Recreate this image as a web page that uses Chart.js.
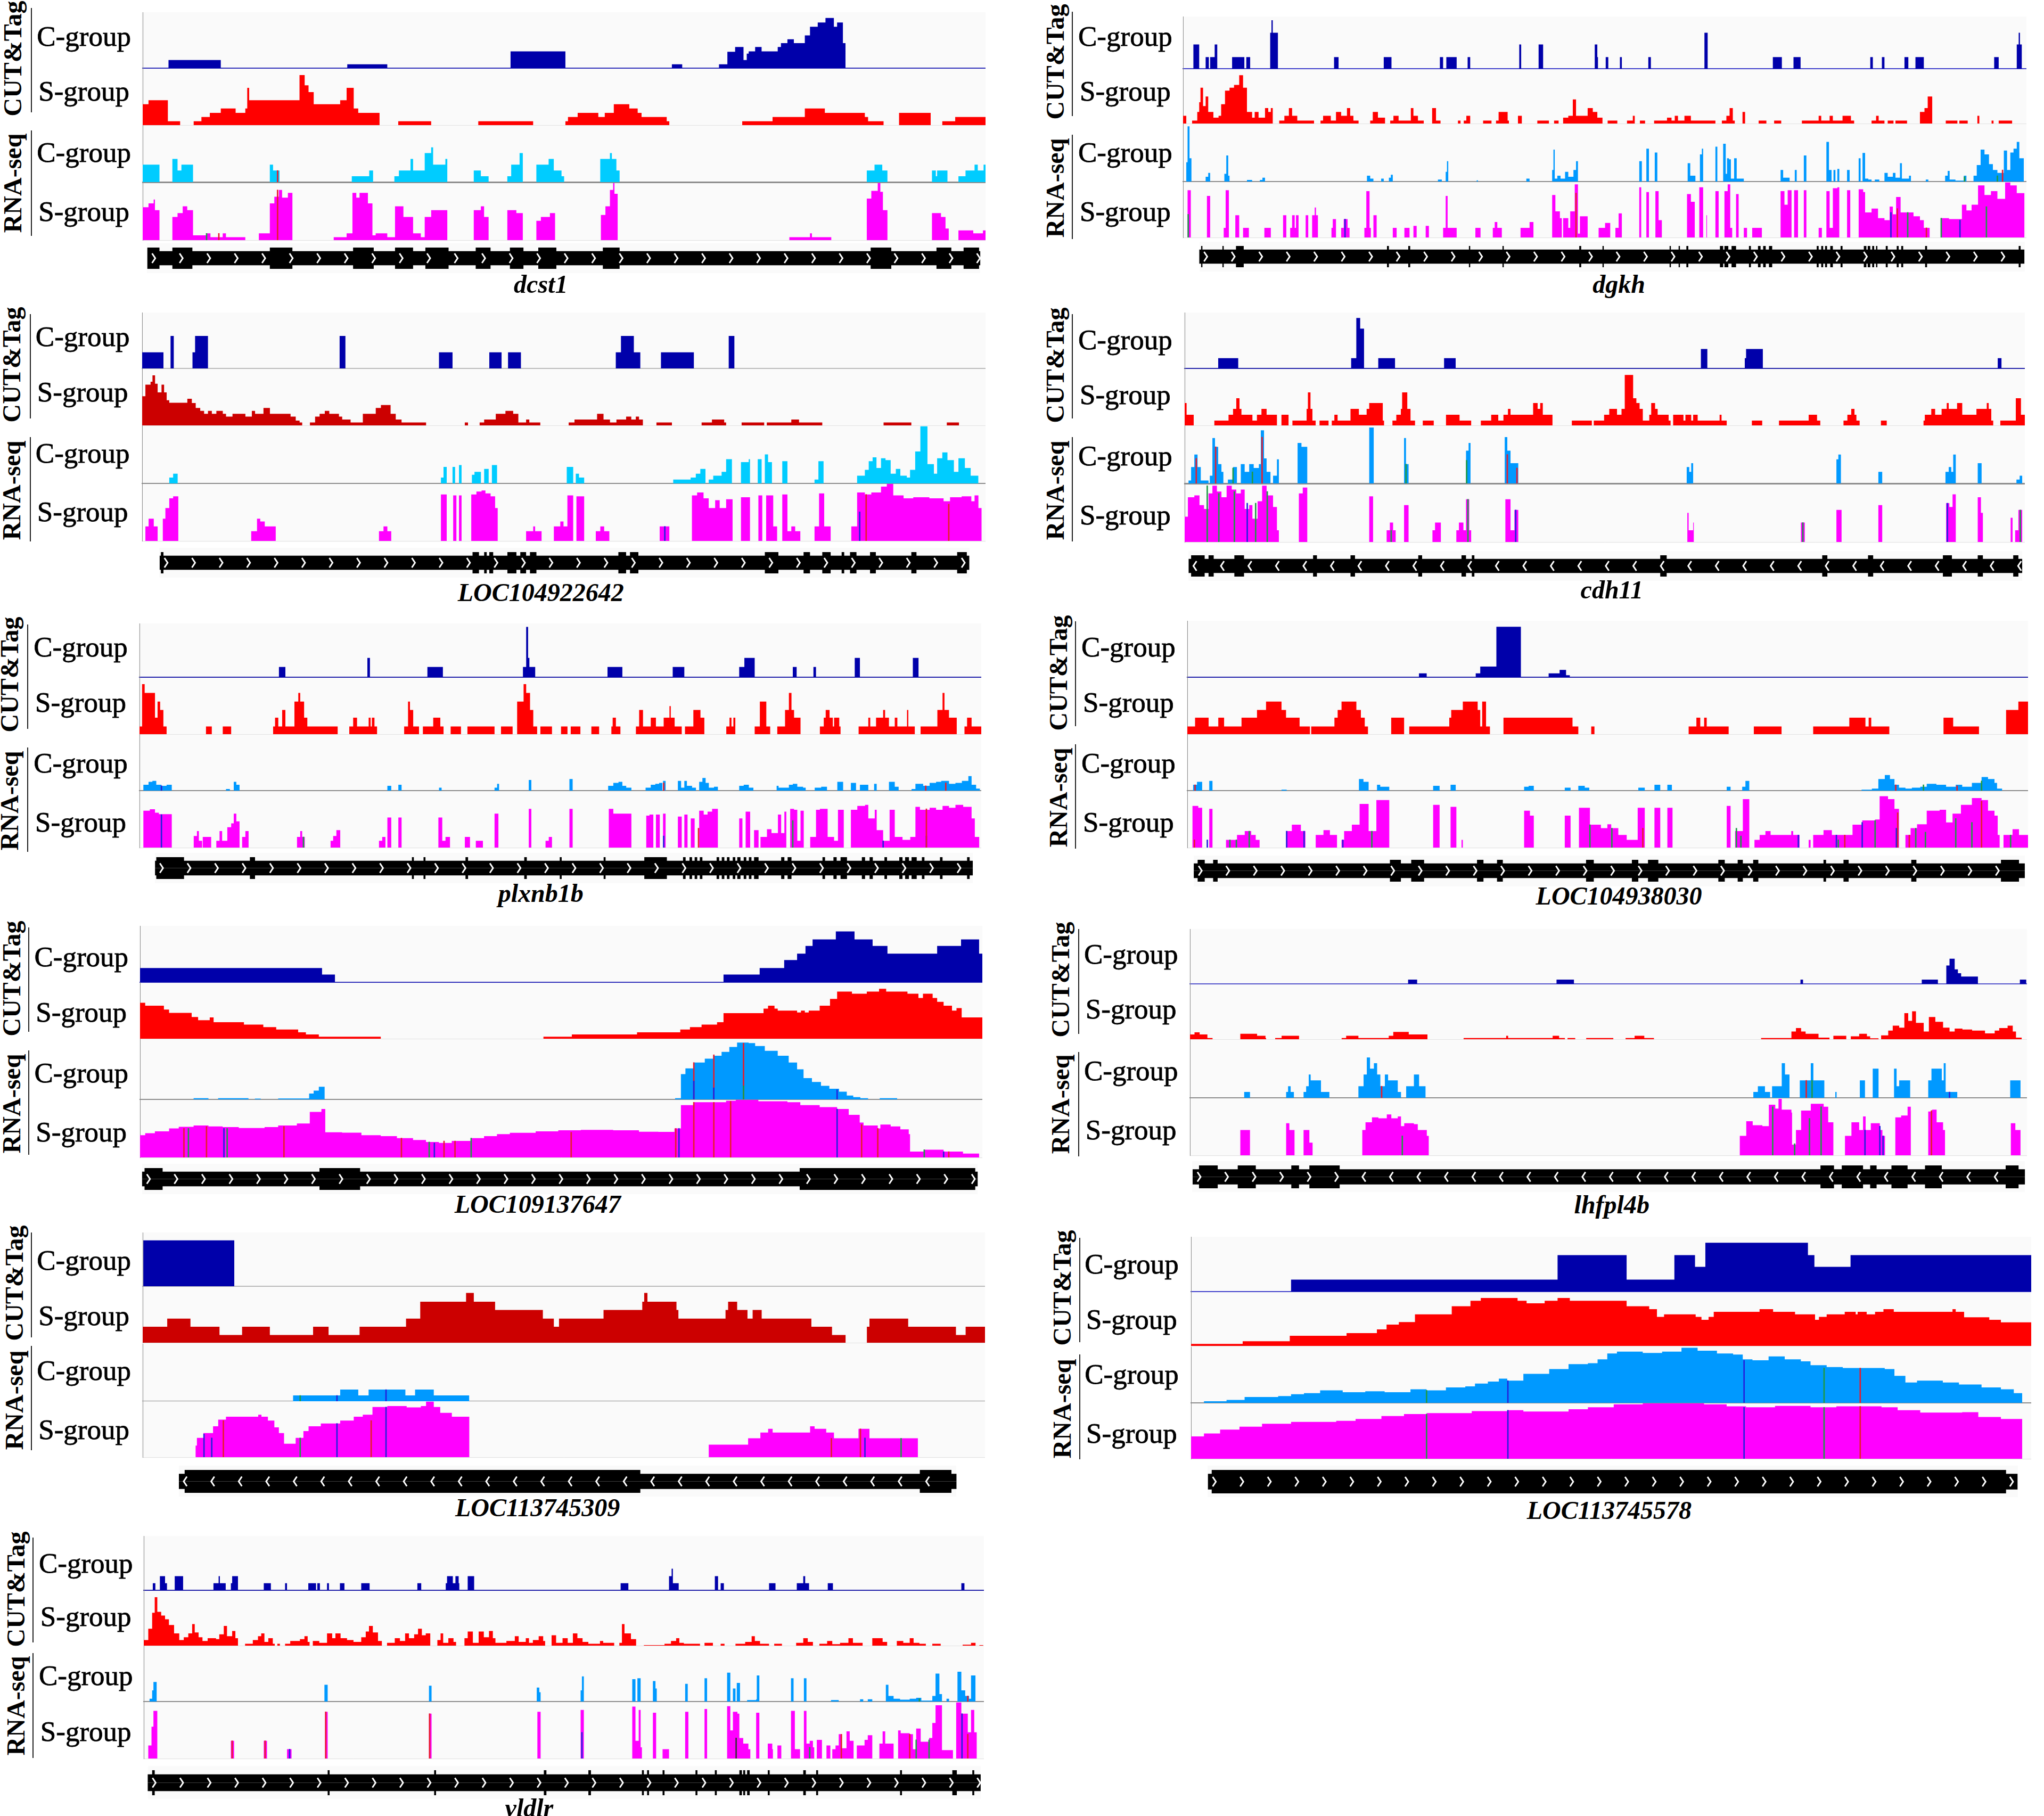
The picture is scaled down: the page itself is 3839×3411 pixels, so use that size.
<!DOCTYPE html>
<html>
<head>
<meta charset="utf-8">
<title>CUT&amp;Tag and RNA-seq tracks</title>
<script src="https://cdn.jsdelivr.net/npm/chart.js@4"></script>
<style>
body { margin: 0; background: #fff; }
#page { position: relative; width: 3839px; height: 3411px; overflow: hidden; font-family: "Liberation Serif", serif; color: #000; }
#page canvas { position: absolute; }
.lbl { position: absolute; white-space: nowrap; line-height: 1; transform: translate(-50%, -50%); }
.group { font-size: 53px; -webkit-text-stroke: 0.8px #000; margin-top: -3px; }
.assay { font-size: 48px; font-weight: bold; transform: translate(-50%, -50%) rotate(-90deg); }
.gene { font-size: 48px; font-weight: bold; font-style: italic; }
.vline { position: absolute; width: 2px; background: #222; }
.halo { position: absolute; background: #fafafa; }
</style>
</head>
<body>
<div id="page"></div>
<script>
// every track is a flat list: position, height, position, height...
// a height holds until the next position (coverage steps)

// dcst1
const dcst1CutC = [40,42,121,0,317,20,379,0,570,87,655,0,820,20,836,0,893,20,906,85,918,110,931,42,936,75,939,87,949,110,959,87,984,110,989,130,999,150,1009,130,1026,170,1034,215,1046,237,1058,260,1071,215,1076,237,1085,130,1089,0];
const dcst1CutS = [0,108,9,128,39,20,58,0,79,20,91,42,104,63,121,86,144,63,159,86,162,192,165,128,243,258,251,205,257,170,265,108,306,128,316,192,327,86,334,63,367,0,396,20,447,0,520,20,605,0,655,20,659,42,674,63,706,42,716,63,730,108,754,86,767,63,773,42,812,20,816,0,929,20,976,42,1026,86,1057,63,1119,42,1124,20,1148,0,1172,63,1221,0,1239,20,1259,42,1306,0];
const dcst1RnaC = [0,90,26,0,46,120,54,60,60,90,78,0,197,90,202,60,212,0,324,30,351,60,357,0,390,30,397,60,415,120,419,60,437,150,447,180,450,90,469,120,472,0,513,60,524,30,536,0,565,30,571,90,584,150,589,0,610,90,629,120,637,60,649,30,653,0,709,120,724,150,727,120,734,60,739,0,1122,60,1134,90,1146,60,1154,0,1223,60,1229,30,1231,60,1247,0,1264,30,1275,60,1289,90,1294,60,1303,90,1306,0];
const dcst1RnaS = [0,170,9,190,17,210,19,155,26,0,46,120,54,140,62,175,69,155,78,25,99,35,105,15,124,35,129,15,159,0,180,35,197,190,204,225,211,260,216,220,225,245,232,0,296,15,316,35,325,245,331,220,336,245,349,190,356,25,361,35,379,15,391,175,404,120,419,35,431,15,437,120,447,155,472,0,513,155,524,175,529,120,536,0,565,155,579,140,589,0,610,100,617,120,631,140,639,0,710,130,717,175,724,260,729,295,731,240,736,0,1002,15,1034,35,1037,15,1067,0,1122,215,1129,255,1139,295,1143,250,1147,155,1154,0,1223,140,1237,120,1244,60,1249,0,1264,50,1287,35,1302,50,1306,0];
const dcst1Body = [7,1298];
const dcst1Exons = [7,26,46,77,197,232,326,358,391,419,438,474,516,539,569,590,613,641,713,739,1128,1160,1230,1253,1272,1296];
const dcst1SnpC = [[209,60,'r']];
const dcst1SnpS = [[209,260,'r'],[99,35,'g'],[118,35,'r']];

// dgkh
const dgkhCutC = [249,125,258,0,268,60,273,0,275,60,282,125,286,0,309,60,328,0,331,60,337,0,368,185,370,250,372,185,380,0,467,60,474,0,544,60,556,0,631,60,636,0,641,60,657,0,674,60,678,0,754,125,757,0,784,125,791,0,871,125,875,60,876,0,888,60,892,0,910,60,913,0,954,60,958,0,1041,185,1046,0,1147,60,1161,0,1179,60,1190,0,1298,60,1302,0,1316,60,1320,0,1351,60,1357,0,1368,60,1381,0,1490,60,1497,0,1525,125,1528,185,1530,125,1533,0];
const dgkhCutS = [233,40,238,0,247,15,255,60,258,110,260,185,264,90,268,140,272,60,280,30,288,40,292,100,298,170,305,185,312,200,320,250,326,185,332,60,340,30,344,60,350,30,360,80,365,60,369,80,372,0,382,15,390,40,397,80,402,40,410,15,436,0,446,15,450,40,462,15,470,60,478,40,487,80,492,40,497,15,505,0,523,15,527,60,535,30,546,0,554,15,559,40,567,15,586,80,590,40,597,15,606,0,619,80,625,15,632,0,659,15,663,0,668,15,672,40,678,0,698,15,711,0,718,15,722,60,736,15,738,0,752,40,758,0,782,15,800,0,808,15,815,0,822,30,830,40,837,125,842,40,860,80,868,60,875,30,883,0,891,15,906,0,921,15,930,40,933,0,941,15,949,0,963,15,983,30,990,15,995,40,1000,15,1010,40,1020,15,1058,0,1068,15,1075,40,1080,80,1085,15,1088,0,1100,60,1104,0,1125,15,1137,0,1149,15,1160,0,1192,15,1218,40,1222,15,1235,40,1240,15,1255,40,1268,15,1273,0,1300,15,1307,40,1311,15,1320,0,1325,15,1334,0,1337,15,1355,0,1375,60,1382,80,1387,140,1394,0,1415,15,1433,0,1436,15,1449,0,1464,40,1467,0,1486,15,1489,0,1497,15,1518,0];
const dgkhRnaC = [238,100,240,285,243,120,246,0,268,25,272,45,275,0,297,40,300,135,303,30,305,0,332,8,340,0,352,8,356,20,360,0,518,30,523,15,528,0,540,15,544,0,552,20,555,35,558,0,628,10,634,0,640,50,642,105,644,0,688,6,690,0,765,15,770,0,805,60,807,165,809,15,813,30,818,15,825,50,830,25,838,60,842,105,845,0,940,105,944,0,951,170,955,0,964,150,968,0,1015,95,1019,30,1027,0,1034,140,1037,170,1039,0,1058,180,1061,0,1070,195,1074,40,1076,120,1079,115,1082,15,1087,120,1091,15,1097,15,1102,0,1159,60,1163,20,1170,20,1173,0,1181,60,1184,0,1195,135,1199,0,1230,205,1234,60,1238,0,1241,60,1244,0,1247,65,1250,0,1262,60,1266,0,1280,120,1283,0,1286,148,1290,15,1295,10,1300,0,1305,10,1312,0,1320,45,1325,25,1333,45,1337,20,1344,95,1347,15,1358,30,1361,0,1384,10,1388,0,1414,30,1418,55,1421,10,1430,5,1443,30,1447,0,1458,30,1463,85,1469,165,1475,140,1482,90,1488,60,1495,45,1505,160,1510,60,1515,150,1520,170,1525,205,1529,120,1536,0];
const dgkhRnaS = [240,245,245,0,270,215,275,0,296,50,299,245,304,0,314,115,320,0,326,50,335,0,359,50,369,0,388,115,393,0,399,50,402,115,406,50,408,115,412,0,423,115,427,0,433,115,437,155,439,115,442,0,463,50,465,95,470,0,478,50,482,95,488,50,491,0,514,50,517,240,522,50,524,0,528,115,533,0,558,50,564,0,576,50,584,0,590,60,595,0,609,60,614,0,636,50,640,215,643,50,657,0,686,50,694,0,713,50,716,80,720,50,727,0,756,50,770,80,776,0,805,220,810,135,817,100,820,0,822,100,830,50,833,135,840,275,845,20,848,110,860,0,877,50,887,75,895,0,903,50,908,125,913,0,940,260,943,0,951,235,955,0,965,240,970,90,975,0,1014,225,1020,185,1026,0,1033,260,1039,0,1044,115,1045,0,1058,240,1063,0,1072,240,1077,275,1081,50,1084,0,1090,225,1094,0,1102,50,1107,0,1115,50,1130,0,1159,240,1165,170,1170,245,1176,0,1180,245,1186,0,1195,245,1199,0,1218,50,1223,0,1230,240,1235,50,1240,255,1247,260,1250,0,1262,245,1267,0,1280,250,1287,235,1290,130,1300,150,1310,100,1320,90,1328,160,1333,120,1338,210,1345,130,1355,130,1365,110,1375,90,1381,50,1390,0,1407,100,1420,95,1440,170,1447,140,1455,170,1465,270,1475,220,1485,240,1495,200,1507,285,1515,270,1525,230,1537,0];
const dgkhBody = [258,1537];
const dgkhExons = [261,263,294,296,315,327,549,552,582,585,676,678,728,730,847,850,883,885,987,989,1001,1003,1013,1016,1065,1070,1072,1078,1083,1090,1110,1113,1124,1128,1132,1136,1141,1146,1215,1218,1222,1225,1228,1231,1236,1240,1252,1255,1288,1292,1294,1298,1301,1304,1307,1309,1322,1325,1339,1342,1346,1349,1383,1386,1528,1531];
const dgkhSnpC = [[1503,60,'r'],[1495,30,'g'],[1444,25,'g']];
const dgkhSnpS = [[842,230,'r'],[1330,130,'b'],[1340,150,'r'],[1356,130,'g'],[1408,100,'g'],[1437,90,'b'],[1478,160,'g'],[1385,50,'r'],[484,95,'b'],[241,120,'g']];

// LOC104922642
const loc642CutC = [220,83,253,0,264,167,269,0,298,83,302,167,322,0,526,167,535,0,680,83,701,0,758,83,777,0,787,83,807,0,954,83,962,167,982,83,992,0,1024,83,1075,0,1129,167,1138,0];
const loc642CutS = [220,150,225,210,233,225,236,258,240,215,244,170,250,210,254,170,258,130,262,117,290,137,297,115,303,90,310,75,316,60,322,75,328,60,335,75,345,60,350,45,360,60,380,45,390,75,395,60,408,90,418,60,450,45,458,25,464,15,468,0,480,15,488,45,495,60,503,75,510,60,525,45,530,30,543,15,562,60,582,90,590,105,605,60,613,30,622,15,660,0,720,15,725,0,743,15,750,30,768,60,783,75,795,60,803,15,815,30,820,15,837,0,881,15,890,30,925,60,935,30,945,15,955,30,970,45,978,30,985,45,990,30,996,0,1017,15,1041,0,1087,15,1103,30,1122,15,1125,0,1149,15,1184,0,1188,15,1226,30,1238,15,1274,0,1369,15,1412,0,1467,15,1486,0];
const loc642RnaC = [262,30,268,50,275,0,683,30,687,85,692,0,701,85,705,0,711,95,715,0,731,45,735,60,745,0,750,75,757,0,762,95,770,0,878,85,888,0,892,50,897,30,905,0,1043,20,1070,30,1078,50,1085,75,1093,0,1098,20,1105,40,1118,60,1125,125,1134,0,1148,110,1160,125,1162,0,1174,125,1180,0,1185,150,1190,110,1196,0,1212,115,1220,0,1262,20,1268,115,1276,0,1328,40,1340,70,1346,115,1352,135,1358,80,1365,130,1372,120,1380,50,1388,75,1395,40,1405,30,1410,70,1418,165,1426,295,1437,100,1447,50,1452,130,1460,160,1468,120,1478,60,1485,130,1495,80,1504,40,1516,0];
const loc642RnaS = [225,75,230,115,238,75,244,0,252,115,256,170,262,220,268,230,276,0,389,50,398,115,403,100,410,75,427,0,587,50,594,75,600,50,606,0,683,240,692,0,702,235,707,0,711,235,715,0,730,240,738,255,746,260,752,245,760,230,767,170,771,0,815,50,826,75,829,50,839,0,858,75,868,100,873,75,879,235,888,0,893,230,905,0,923,50,930,75,936,50,944,0,1022,75,1037,0,1072,235,1080,250,1090,220,1098,170,1108,210,1115,170,1125,215,1135,0,1148,225,1162,0,1175,235,1181,0,1187,235,1198,75,1204,0,1212,240,1220,50,1226,75,1232,50,1240,0,1262,75,1269,245,1277,75,1287,0,1319,75,1328,250,1340,240,1350,250,1365,280,1374,295,1384,235,1400,220,1415,225,1440,220,1462,205,1472,225,1490,230,1505,205,1510,235,1516,170,1521,0];
const loc642Body = [247,1502];
const loc642Exons = [249,253,732,742,750,754,758,764,786,800,806,815,821,831,958,970,976,989,1185,1206,1245,1255,1274,1287,1304,1308,1317,1327,1348,1357,1412,1420,1483,1498];
const loc642SnpC = [];
const loc642SnpS = [[1030,75,'b'],[1332,150,'b'],[1342,240,'r'],[1470,190,'r']];

// cdh11
const cdh11CutC = [287,53,318,0,493,53,501,260,507,205,513,0,535,53,561,0,637,53,655,0,1035,100,1045,0,1103,53,1105,100,1131,0,1495,53,1501,0];
const cdh11CutS = [235,115,238,55,249,0,281,25,303,55,310,85,315,140,320,85,323,55,340,25,347,55,354,85,362,55,378,0,385,55,396,0,402,25,424,85,426,170,430,85,433,25,438,0,444,25,458,0,463,25,467,55,472,25,492,85,505,55,517,85,521,115,542,25,544,0,557,25,563,55,570,85,572,170,580,85,585,25,592,0,604,25,621,0,640,55,661,25,679,0,694,25,710,55,721,25,729,55,736,85,740,55,775,115,782,85,786,115,790,55,805,0,835,25,866,0,869,25,885,55,893,85,905,55,912,85,917,260,930,140,935,115,940,85,945,25,955,55,958,115,964,85,968,55,985,25,988,0,992,55,1008,25,1011,55,1020,25,1023,55,1030,25,1064,55,1067,25,1075,0,1114,25,1130,0,1156,25,1202,55,1215,25,1220,0,1256,25,1262,55,1268,85,1273,55,1276,25,1281,0,1314,25,1323,0,1380,25,1382,55,1392,85,1398,55,1408,85,1416,115,1419,85,1432,115,1440,55,1462,85,1478,115,1481,85,1485,25,1488,0,1499,25,1523,140,1531,55,1537,25];
const cdh11RnaC = [241,15,245,85,250,150,255,85,260,15,272,0,274,40,278,235,282,190,287,100,292,60,295,0,302,20,310,85,316,0,322,100,328,60,335,100,342,80,350,100,353,275,358,130,362,60,368,0,372,40,378,125,381,0,410,210,416,190,425,0,521,290,528,0,575,235,578,100,582,0,671,170,675,210,678,0,731,240,735,170,740,105,752,0,1013,85,1017,60,1020,105,1023,0,1245,125,1248,150,1252,0,1310,60,1316,0,1414,60,1419,85,1423,60,1426,150,1430,0,1464,105,1470,0,1524,20,1529,40,1533,0];
const cdh11RnaS = [235,130,240,230,250,240,258,190,265,170,272,250,278,290,285,260,292,230,300,290,308,270,315,250,322,270,328,170,335,190,340,120,348,210,355,290,362,240,372,180,378,60,381,0,412,250,418,280,425,0,521,235,527,0,548,60,553,100,558,60,562,0,575,190,582,0,619,60,623,100,632,0,656,60,660,100,667,60,671,220,676,60,679,0,732,220,740,60,746,165,752,0,1014,150,1016,60,1023,100,1024,0,1190,100,1196,0,1245,165,1253,0,1310,190,1316,0,1415,200,1420,180,1425,245,1430,0,1464,230,1469,150,1472,0,1515,125,1518,0,1522,60,1527,165,1533,0];
const cdh11Body = [241,1533];
const cdh11Exons = [245,266,272,280,312,327,434,440,492,499,597,603,664,671,680,684,972,982,1223,1231,1294,1302,1410,1424,1464,1472,1519,1527];
const cdh11SnpC = [[253,130,'r'],[283,190,'r'],[310,80,'g'],[340,60,'g'],[355,240,'r'],[672,120,'g'],[735,150,'r'],[750,80,'r'],[578,100,'g']];
const cdh11SnpS = [[270,290,'g'],[288,250,'g'],[312,260,'g'],[332,200,'b'],[345,200,'g'],[363,260,'g'],[748,165,'b'],[674,220,'g'],[555,60,'g'],[1193,100,'g'],[1417,200,'b'],[1530,165,'g']];

// plxnb1b
const plxnCutC = [432,53,442,0,569,100,573,0,662,53,686,0,810,53,815,260,818,100,820,53,829,0,941,53,964,0,1042,53,1060,0,1145,53,1153,100,1169,0,1228,53,1234,0,1260,53,1264,0,1324,100,1332,0,1414,100,1423,0];
const plxnCutS = [216,40,220,258,224,213,240,85,244,168,248,125,253,40,258,0,319,40,328,0,345,40,358,0,423,40,426,85,431,40,437,125,442,40,456,168,462,213,465,168,471,85,476,40,523,0,541,40,547,85,553,40,571,85,574,40,576,85,580,40,584,0,626,40,632,168,635,125,640,40,649,0,655,40,671,85,682,40,687,0,698,40,714,0,724,40,766,0,776,40,794,0,801,168,811,258,815,213,821,125,826,40,832,0,837,40,855,0,869,40,879,0,884,40,899,0,916,40,928,0,947,40,949,85,954,40,961,0,985,40,990,125,996,40,1008,85,1016,40,1028,85,1037,145,1039,85,1045,40,1056,0,1061,40,1074,125,1085,85,1091,0,1125,40,1130,85,1133,40,1136,85,1139,0,1169,40,1177,168,1187,40,1193,0,1204,40,1216,125,1222,213,1226,125,1230,85,1240,0,1270,40,1276,85,1279,125,1285,85,1290,40,1292,85,1300,40,1302,0,1330,40,1345,85,1348,40,1357,85,1368,125,1371,85,1377,40,1386,85,1390,40,1405,125,1407,40,1417,0,1426,40,1452,125,1460,213,1463,125,1470,85,1482,0,1494,40,1498,85,1505,40,1520,0];
const plxnRnaC = [222,30,230,45,236,50,242,30,250,25,258,30,266,0,350,8,356,0,362,45,366,30,371,0,600,25,606,0,617,30,622,0,680,15,684,0,766,15,770,35,773,0,819,55,823,0,882,60,887,0,942,25,950,40,958,45,964,25,970,15,978,0,1000,15,1008,30,1015,35,1021,40,1026,0,1027,50,1031,0,1050,50,1055,15,1060,50,1064,25,1072,15,1078,0,1083,45,1088,65,1093,40,1098,15,1106,20,1112,0,1145,25,1152,30,1160,15,1167,0,1203,25,1206,15,1222,30,1228,35,1235,20,1244,15,1248,0,1262,15,1272,20,1281,0,1297,45,1306,0,1318,40,1326,0,1332,30,1345,0,1354,35,1358,0,1377,45,1386,20,1392,0,1412,8,1418,35,1430,25,1440,40,1450,45,1458,50,1470,35,1480,40,1490,50,1500,75,1505,30,1512,10,1518,0];
const plxnRnaS = [222,190,232,198,240,180,246,172,266,0,300,60,305,85,308,35,313,0,314,55,327,0,335,35,340,85,344,35,352,105,358,125,362,175,366,135,371,0,375,55,380,85,385,0,460,55,465,85,468,55,472,0,512,35,516,60,521,90,527,0,587,35,592,55,597,0,600,155,606,0,617,155,622,0,679,155,685,35,690,55,697,0,720,55,728,0,737,35,748,0,766,175,772,0,819,200,823,0,845,35,850,55,855,0,882,200,887,0,943,200,950,175,978,0,1001,165,1006,170,1012,0,1016,170,1022,0,1027,175,1031,0,1050,160,1056,0,1060,170,1065,0,1070,150,1076,0,1083,190,1090,170,1096,185,1103,200,1112,0,1145,150,1150,0,1155,185,1162,0,1168,90,1175,0,1178,55,1188,95,1195,75,1205,170,1210,75,1215,185,1218,0,1224,200,1230,195,1235,35,1240,190,1245,0,1255,55,1264,195,1270,200,1282,55,1292,35,1298,195,1307,0,1318,195,1328,215,1340,220,1345,150,1355,195,1358,90,1368,35,1378,195,1386,55,1398,40,1410,55,1418,210,1425,195,1440,205,1450,195,1460,215,1470,205,1480,220,1492,210,1505,150,1510,55,1517,0];
const plxnBody = [240,1507];
const plxnExons = [242,285,387,395,638,641,656,659,721,725,812,816,867,870,935,938,998,1033,1058,1062,1068,1072,1076,1080,1084,1088,1110,1114,1118,1122,1126,1130,1135,1139,1142,1147,1152,1156,1160,1164,1168,1175,1210,1215,1220,1226,1274,1278,1291,1296,1302,1312,1335,1340,1347,1352,1370,1374,1393,1398,1402,1408,1412,1420,1428,1432,1456,1460,1498,1502];
const plxnSnpC = [[250,25,'b'],[1028,40,'r'],[1434,25,'r'],[1465,40,'r']];
const plxnSnpS = [[250,170,'b'],[470,55,'g'],[1028,60,'b'],[1082,100,'r'],[1228,140,'g'],[1435,60,'b'],[1435,200,'r'],[1368,35,'b']];

// LOC104938030
const loc030CutC = [598,20,610,0,686,20,693,55,715,55,718,260,756,0,799,20,816,38,826,10,832,0];
const loc030CutS = [239,40,251,85,272,40,287,85,296,40,323,85,347,125,361,168,385,125,392,85,413,40,429,0,431,40,467,85,472,125,478,168,501,125,508,85,514,40,519,0,555,85,575,0,583,40,645,85,648,125,666,168,689,125,693,40,696,168,702,40,708,0,729,85,836,40,845,0,865,40,870,0,1016,40,1028,85,1034,40,1040,85,1044,40,1078,0,1117,40,1160,0,1209,40,1265,85,1290,40,1295,85,1299,40,1327,0,1411,85,1426,40,1466,0,1508,125,1527,168,1542,0];
const loc030RnaC = [248,30,254,45,262,0,273,50,278,0,385,5,393,0,505,60,512,45,520,0,533,30,538,20,552,0,620,25,630,0,647,30,655,0,761,20,768,25,776,0,824,15,833,0,845,25,855,15,862,0,938,15,948,0,963,30,972,0,983,30,990,0,1075,20,1081,0,1099,20,1104,50,1110,0,1284,5,1300,10,1310,60,1320,80,1328,60,1335,30,1342,15,1352,10,1362,15,1375,20,1385,35,1400,30,1415,20,1430,30,1440,20,1455,40,1470,70,1480,60,1490,40,1494,10,1502,0];
const loc030RnaS = [247,215,256,205,262,0,273,200,278,0,299,40,316,65,328,85,338,65,345,40,351,0,392,85,401,118,415,85,422,0,438,65,450,90,460,65,471,0,478,40,482,85,494,118,506,225,520,85,532,245,552,0,620,220,630,0,647,210,656,0,664,40,666,0,761,190,770,165,776,0,824,165,833,0,846,205,863,118,880,100,890,120,896,100,907,65,920,40,937,205,948,0,963,205,972,0,983,205,991,0,1075,215,1081,0,1088,85,1100,250,1110,0,1118,40,1126,65,1135,85,1143,65,1175,85,1178,65,1188,0,1202,40,1205,0,1209,65,1225,90,1238,65,1270,118,1285,140,1305,145,1312,265,1325,250,1335,200,1342,0,1352,65,1360,100,1370,120,1385,190,1405,195,1415,130,1425,175,1438,220,1455,255,1470,245,1480,190,1490,165,1495,65,1498,0,1504,65,1518,95,1528,65,1542,0];
const loc030Body = [249,1537];
const loc030Exons = [255,266,279,286,553,570,586,606,688,698,719,728,857,869,928,938,953,969,1062,1072,1092,1100,1116,1124,1225,1229,1256,1264,1361,1369,1500,1528];
const loc030SnpC = [[251,30,'r'],[1337,30,'r'],[1380,30,'g'],[1470,50,'g'],[1432,25,'r']];
const loc030SnpS = [[250,40,'r'],[270,40,'b'],[305,40,'g'],[315,40,'g'],[335,85,'g'],[393,85,'b'],[420,85,'b'],[480,40,'b'],[525,85,'g'],[863,118,'g'],[897,100,'g'],[945,100,'r'],[1090,100,'g'],[1097,60,'g'],[1186,65,'b'],[1245,65,'b'],[1248,40,'g'],[1258,65,'r'],[1285,130,'b'],[1305,140,'g'],[1338,100,'b'],[1340,180,'r'],[1358,65,'r'],[1368,100,'g'],[1383,80,'g'],[1430,150,'g'],[1455,130,'g'],[1470,240,'r'],[1515,65,'g']];

// LOC109137647
const loc647CutC = [217,74,499,40,519,0,1121,40,1177,74,1215,115,1235,148,1248,188,1259,222,1295,263,1324,222,1352,188,1375,148,1452,188,1489,222,1517,148,1522,0];
const loc647CutS = [217,185,225,170,254,150,262,133,297,112,307,95,325,110,331,85,378,73,408,60,428,47,462,33,474,22,494,10,590,0,842,10,886,22,987,33,1054,47,1069,60,1087,73,1111,85,1121,132,1183,155,1190,170,1200,155,1205,145,1235,135,1241,145,1247,135,1253,145,1270,170,1286,205,1297,243,1320,232,1343,243,1362,257,1373,243,1406,232,1423,210,1430,232,1445,210,1452,190,1462,170,1475,145,1482,158,1490,110,1522,0];
const loc647RnaC = [300,6,323,0,338,6,385,0,395,4,404,0,431,5,479,30,486,45,494,65,503,0,1046,6,1055,130,1062,160,1075,190,1092,210,1105,225,1118,245,1130,270,1142,293,1160,290,1170,275,1185,250,1205,225,1222,190,1235,155,1245,110,1258,90,1272,70,1285,55,1300,40,1312,20,1322,12,1333,6,1345,0,1363,6,1390,0];
const loc647RnaS = [217,115,225,125,240,135,262,150,277,158,300,165,323,160,345,157,370,152,410,157,431,165,460,175,480,235,498,250,504,130,530,128,560,115,590,110,615,100,640,90,660,80,680,75,700,85,730,100,750,110,770,120,790,127,830,135,865,140,900,142,950,140,990,133,1020,132,1045,150,1055,270,1075,285,1125,293,1140,298,1175,290,1220,285,1240,270,1270,260,1297,250,1315,220,1332,180,1338,165,1360,150,1364,170,1380,160,1395,145,1408,120,1410,30,1432,40,1462,30,1492,20,1517,0];
const loc647Body = [220,1515];
const loc647Exons = [224,252,495,558,1239,1511];
const loc647SnpC = [[1075,190,'r'],[1106,230,'r'],[1152,290,'r'],[1075,95,'b'],[1106,60,'b'],[1152,70,'g'],[1297,50,'b']];
const loc647SnpS = [[285,150,'r'],[292,150,'g'],[320,160,'r'],[347,150,'b'],[352,150,'g'],[440,160,'r'],[622,100,'r'],[665,80,'g'],[673,75,'b'],[688,85,'r'],[705,85,'r'],[730,100,'g'],[885,130,'r'],[1047,150,'r'],[1052,150,'b'],[1075,285,'r'],[1106,285,'r'],[1132,290,'r'],[1297,250,'b'],[1335,170,'r'],[1360,150,'r'],[1432,40,'g'],[1462,30,'b'],[1470,30,'r']];

// lhfpl4b
const lhfCutC = [581,22,595,0,811,22,838,0,1189,22,1193,0,1377,22,1402,0,1415,95,1420,130,1428,75,1433,55,1438,38,1464,0,1529,22,1539,0];
const lhfCutS = [243,25,250,36,258,25,270,6,278,0,321,28,347,18,360,6,361,0,375,6,385,18,412,0,478,6,485,18,504,6,551,18,558,38,582,25,611,0,667,6,733,18,736,6,805,18,815,6,824,0,828,6,840,0,857,6,899,0,918,6,932,18,947,6,962,0,1128,6,1172,6,1175,40,1182,58,1190,40,1197,28,1217,8,1234,0,1240,18,1260,0,1267,15,1280,28,1292,15,1297,5,1310,0,1314,20,1325,45,1332,70,1342,60,1350,135,1356,95,1362,145,1368,85,1380,40,1388,115,1398,90,1410,60,1420,40,1428,55,1440,50,1455,45,1475,30,1490,45,1497,58,1510,70,1518,40,1523,8,1532,0];
const lhfRnaC = [327,30,336,0,392,30,395,60,399,30,404,0,419,30,423,60,427,120,430,90,446,30,459,0,504,60,512,120,517,208,522,150,528,178,533,120,538,60,545,120,550,90,565,30,570,0,578,60,590,120,598,60,608,0,1116,30,1123,60,1134,30,1142,0,1145,60,1160,178,1165,120,1172,0,1188,90,1205,178,1209,90,1226,0,1243,30,1245,0,1281,90,1289,0,1301,150,1310,0,1334,150,1338,60,1342,90,1359,0,1387,90,1392,150,1408,90,1411,178,1414,30,1432,0,1514,90,1530,0];
const lhfRnaS = [321,130,336,0,392,165,397,130,405,0,419,130,428,65,433,0,510,130,515,170,525,195,535,190,548,210,555,190,565,200,570,150,575,165,590,160,596,130,610,100,613,0,1095,100,1105,175,1115,155,1130,150,1140,260,1150,240,1155,290,1160,235,1175,220,1176,55,1182,130,1190,230,1205,265,1225,250,1232,170,1240,0,1258,100,1268,170,1280,130,1286,200,1290,130,1298,165,1312,130,1316,100,1320,0,1336,195,1345,205,1355,250,1360,0,1387,225,1393,235,1400,170,1410,130,1413,0,1515,165,1522,130,1530,0];
const lhfBody = [247,1537];
const lhfExons = [257,286,317,345,400,412,428,475,1220,1241,1253,1286,1297,1307,1330,1355,1382,1408,1507,1527];
const lhfSnpC = [[540,60,'r'],[1198,90,'r'],[1207,90,'g'],[1420,30,'b']];
const lhfSnpS = [[572,100,'g'],[1146,250,'g'],[1180,60,'g'],[1203,190,'g'],[1221,250,'g'],[1289,130,'b'],[1312,150,'b'],[1317,100,'b'],[1392,230,'r']];

// LOC113745309
const loc309CutC = [222,238,363,0];
const loc309CutS = [221,83,259,125,295,83,340,40,375,83,418,40,485,83,509,40,557,83,629,125,651,213,722,258,734,213,767,170,841,125,858,83,866,125,935,170,995,213,998,258,1003,213,1048,170,1051,125,1124,170,1128,213,1142,170,1158,125,1166,170,1180,125,1257,83,1289,40,1310,0,1343,83,1347,125,1407,83,1481,40,1496,83,1526,0];
const loc309RnaC = [454,30,527,60,555,30,571,60,628,30,643,60,672,30,727,0];
const loc309RnaS = [303,60,305,100,315,125,330,160,338,195,350,210,400,220,405,210,415,190,425,155,432,125,440,70,458,100,470,135,478,160,497,175,527,190,548,210,562,220,577,260,600,265,630,258,652,265,660,288,672,260,682,230,700,210,727,0,1098,65,1159,98,1178,128,1190,147,1197,128,1255,160,1262,147,1280,128,1292,98,1330,147,1347,98,1422,0];
const loc309Body = [277,1482];
const loc309Exons = [286,992,1425,1474];
const loc309SnpC = [[465,30,'g'],[522,30,'b'],[598,60,'b']];
const loc309SnpS = [[316,120,'b'],[328,100,'b'],[346,190,'r'],[465,100,'g'],[522,175,'b'],[575,190,'r'],[598,260,'b'],[1288,98,'r'],[1333,147,'r'],[1340,100,'b'],[1396,98,'g']];

// LOC113745578
const loc578CutC = [400,62,813,188,920,62,994,188,1026,128,1042,252,1201,188,1211,128,1267,188,1547,0];
const loc578CutS = [245,10,325,24,398,52,486,66,533,85,548,110,567,123,592,163,649,205,678,233,694,248,751,233,765,220,793,233,813,248,832,233,920,205,955,190,967,150,978,163,1027,150,1036,135,1047,150,1055,176,1126,190,1147,176,1181,163,1212,135,1218,150,1230,163,1258,176,1275,163,1278,176,1292,163,1305,176,1318,190,1334,176,1425,190,1430,176,1443,148,1482,135,1500,122,1547,0];
const loc578RnaC = [265,8,300,15,328,30,380,35,400,45,420,50,445,65,480,55,515,60,545,55,585,70,610,65,640,80,670,85,685,100,705,110,722,125,735,115,760,150,800,175,830,200,860,205,875,225,890,255,905,265,945,258,975,265,1005,285,1030,270,1060,255,1085,250,1100,225,1115,220,1140,240,1165,225,1190,215,1205,195,1230,185,1255,180,1320,175,1335,140,1352,105,1370,115,1410,105,1435,95,1470,80,1500,70,1520,50,1533,0];
const loc578RnaS = [245,115,265,130,290,150,320,165,355,180,400,190,470,195,500,205,540,220,575,230,610,235,680,245,735,250,760,243,830,255,860,265,900,280,945,286,1040,280,1075,270,1105,265,1150,272,1205,265,1245,270,1315,265,1340,250,1375,238,1440,240,1465,215,1500,205,1533,0];
const loc578Body = [271,1526];
const loc578Exons = [277,1508];
const loc578SnpC = [[610,65,'g'],[736,115,'b'],[1102,220,'b'],[1226,180,'g'],[1282,180,'r']];
const loc578SnpS = [[610,230,'g'],[736,250,'b'],[1102,265,'b'],[1226,265,'g'],[1282,270,'r']];

// vldlr
const vldlrCutC = [237,38,241,0,248,75,256,38,259,0,271,75,284,0,331,38,339,75,341,38,350,0,358,38,360,75,369,0,409,38,420,0,442,38,445,0,478,38,490,0,492,38,496,0,507,38,510,0,527,38,534,0,560,38,573,0,647,38,653,0,691,38,693,75,702,38,706,75,711,38,712,0,725,75,735,0,962,38,974,0,1037,75,1041,115,1043,38,1052,0,1108,75,1113,0,1117,38,1122,0,1192,38,1202,0,1235,38,1245,75,1248,38,1254,0,1283,38,1291,0,1490,38,1495,0];
const vldlrCutS = [223,30,230,90,236,175,240,258,244,180,250,160,256,140,262,110,270,65,278,30,285,45,292,65,298,115,302,70,308,45,314,25,322,40,335,35,340,60,347,105,352,50,360,78,365,40,369,0,380,10,392,30,400,50,405,65,410,20,416,40,423,10,426,0,430,10,434,0,442,10,450,25,465,35,472,50,477,20,480,0,485,25,495,15,507,65,515,40,520,65,528,40,538,30,548,20,560,45,567,75,572,105,578,70,586,25,592,0,600,15,612,40,620,25,628,65,634,40,642,60,648,90,654,55,660,65,667,0,678,30,683,65,687,15,695,40,703,20,707,0,720,40,725,75,733,15,742,75,750,45,758,78,764,40,768,15,785,25,798,50,804,20,815,40,820,15,826,30,835,50,842,25,845,0,855,55,862,15,872,40,880,15,888,65,895,40,903,20,912,10,930,25,935,15,952,0,960,15,964,115,968,65,978,35,986,0,998,3,1030,10,1040,25,1048,40,1053,15,1060,10,1085,0,1092,15,1105,0,1117,10,1123,0,1140,10,1155,20,1165,50,1170,25,1178,10,1192,0,1200,10,1212,0,1234,15,1245,40,1252,20,1260,0,1270,10,1282,25,1290,8,1302,15,1315,40,1322,15,1337,0,1352,40,1368,20,1375,0,1390,25,1400,15,1410,40,1416,15,1425,10,1435,0,1445,10,1458,0,1492,5,1505,15,1512,0,1518,3,1524,0];
const vldlrRnaC = [232,15,236,60,238,105,243,0,503,90,508,0,665,85,669,0,832,75,836,50,838,0,900,60,902,135,905,0,980,120,985,0,988,125,993,0,1012,110,1016,70,1018,0,1062,95,1066,0,1092,125,1096,0,1127,155,1132,0,1136,70,1140,0,1142,100,1147,0,1158,8,1172,12,1173,140,1177,0,1226,125,1230,0,1246,125,1250,0,1288,8,1300,0,1333,12,1338,0,1345,12,1352,0,1373,90,1377,30,1385,15,1395,10,1410,15,1420,20,1428,5,1445,30,1450,150,1456,40,1460,0,1467,15,1471,0,1484,160,1490,60,1496,30,1502,15,1505,140,1512,0];
const vldlrRnaS = [230,70,235,170,238,255,244,0,358,95,363,0,409,95,414,0,445,50,452,0,504,250,508,0,665,240,669,0,833,250,838,0,900,260,905,0,980,278,985,95,990,260,993,60,995,0,1012,245,1017,0,1027,50,1037,0,1062,250,1067,0,1092,265,1096,0,1127,280,1132,150,1136,250,1143,240,1146,110,1152,80,1160,50,1163,0,1172,245,1177,0,1190,80,1197,50,1198,0,1205,70,1211,0,1226,255,1232,50,1240,0,1246,255,1250,80,1255,95,1260,60,1262,0,1266,100,1274,0,1281,70,1287,0,1290,50,1295,70,1300,130,1305,55,1312,145,1317,95,1323,0,1328,70,1340,100,1345,125,1352,0,1363,80,1368,145,1372,80,1385,0,1392,150,1396,135,1410,130,1415,50,1420,160,1427,90,1440,110,1445,190,1450,285,1460,45,1477,0,1482,300,1490,240,1500,140,1505,260,1510,140,1514,0];
const vldlrBody = [229,1520];
const vldlrExons = [236,240,508,511,673,676,843,847,912,916,995,998,1003,1006,1027,1030,1078,1081,1108,1111,1146,1150,1152,1155,1158,1162,1190,1193,1245,1249,1265,1268,1395,1398,1476,1483,1507,1510];
const vldlrSnpC = [[1425,15,'g'],[1500,30,'r']];
const vldlrSnpS = [[360,95,'r'],[411,95,'r'],[449,50,'b'],[505,250,'r'],[666,240,'r'],[902,140,'b'],[1141,110,'k'],[1255,60,'g'],[1304,130,'r'],[1410,130,'r'],[1420,100,'g'],[1440,100,'g'],[1491,240,'b'],[1500,130,'r']];

const groupLabels = ['C-group', 'S-group', 'C-group', 'S-group'];
const assayLabels = ['CUT&Tag', 'RNA-seq'];
const snpColors = { r: '#E81C2C', g: '#1E9A46', b: '#2222DD', k: '#333333' };
const BLUE = '#0000AA', RED = '#FF0000', DARKRED = '#CC0000', CYAN = '#00CCFF', SKY = '#0099FF', PINK = '#FF00FF';

// layout, read in crop units (crop origin ox,oy, 0.825 per px wide, sy per px high)
const panels = [
  { gene: 'dcst1', ox: 0, oy: 0, sy: 2.751, left: 221, right: 1527, xr: [0, 1306], tops: [62, 355, 650, 945], bases: [352, 646, 942, 1240], geneY: [1280, 1390], geneLbl: [838, 1470], lblX: 130, lblY: [195, 480, 795, 1100], assayX: 20, vX: 48, cutY: 303, cutV: [40, 580], rnaY: 947, rnaV: [675, 1220], strand: '>', colors: [BLUE, RED, CYAN, PINK], line0: '#3333BB', cut: dcst1CutC, cutS: dcst1CutS, rna: dcst1RnaC, rnaS: dcst1RnaS, body: dcst1Body, exons: dcst1Exons, snpC: dcst1SnpC, snpS: dcst1SnpS },
  { gene: 'dgkh', ox: 1940, oy: 0, sy: 2.751, left: 233, right: 1540, xr: [233, 1540], tops: [85, 357, 640, 940], bases: [354, 638, 937, 1227], geneY: [1272, 1382], geneLbl: [908, 1470], lblX: 143, lblY: [195, 480, 795, 1100], assayX: 35, vX: 60, cutY: 320, cutV: [60, 600], rnaY: 970, rnaV: [695, 1235], strand: '>', colors: [BLUE, RED, SKY, PINK], line0: '#4444CC', cut: dgkhCutC, cutS: dgkhCutS, rna: dgkhRnaC, rnaS: dgkhRnaS, body: dgkhBody, exons: dgkhExons, snpC: dgkhSnpC, snpS: dgkhSnpS },
  { gene: 'LOC104922642', ox: 0, oy: 570, sy: 2.751, left: 220, right: 1527, xr: [220, 1527], tops: [48, 339, 633, 933], bases: [336, 630, 930, 1227], geneY: [1285, 1395], geneLbl: [838, 1495], lblX: 128, lblY: [180, 465, 780, 1085], assayX: 18, vX: 46, cutY: 315, cutV: [55, 595], rnaY: 965, rnaV: [690, 1230], strand: '>', colors: [BLUE, DARKRED, CYAN, PINK], line0: '#BBBBBB', cut: loc642CutC, cutS: loc642CutS, rna: loc642RnaC, rnaS: loc642RnaS, body: loc642Body, exons: loc642Exons, snpC: loc642SnpC, snpS: loc642SnpS },
  { gene: 'cdh11', ox: 1940, oy: 570, sy: 2.751, left: 235, right: 1537, xr: [235, 1537], tops: [48, 339, 633, 934], bases: [336, 630, 931, 1230], geneY: [1300, 1410], geneLbl: [897, 1480], lblX: 143, lblY: [195, 480, 795, 1100], assayX: 35, vX: 60, cutY: 320, cutV: [55, 595], rnaY: 965, rnaV: [690, 1230], strand: '<', colors: [BLUE, RED, SKY, PINK], line0: '#2222AA', cut: cdh11CutC, cutS: cdh11CutS, rna: cdh11RnaC, rnaS: cdh11RnaS, body: cdh11Body, exons: cdh11Exons, snpC: cdh11SnpC, snpS: cdh11SnpS },
  { gene: 'plxnb1b', ox: 0, oy: 1140, sy: 2.751, left: 216, right: 1520, xr: [216, 1520], tops: [85, 366, 660, 951], bases: [363, 657, 948, 1242], geneY: [1292, 1405], geneLbl: [838, 1480], lblX: 125, lblY: [215, 500, 815, 1120], assayX: 15, vX: 42, cutY: 350, cutV: [90, 630], rnaY: 1000, rnaV: [725, 1265], strand: '>', colors: [BLUE, RED, SKY, PINK], line0: '#2222AA', cut: plxnCutC, cutS: plxnCutS, rna: plxnRnaC, rnaS: plxnRnaS, body: plxnBody, exons: plxnExons, snpC: plxnSnpC, snpS: plxnSnpS },
  { gene: 'LOC104938030', ox: 1940, oy: 1140, sy: 2.751, left: 239, right: 1542, xr: [239, 1542], tops: [72, 366, 660, 951], bases: [363, 657, 948, 1242], geneY: [1308, 1422], geneLbl: [908, 1495], lblX: 148, lblY: [215, 500, 815, 1120], assayX: 40, vX: 65, cutY: 340, cutV: [75, 615], rnaY: 985, rnaV: [710, 1250], strand: '>', colors: [BLUE, RED, SKY, PINK], line0: '#2222AA', cut: loc030CutC, cutS: loc030CutS, rna: loc030RnaC, rnaS: loc030RnaS, body: loc030Body, exons: loc030Exons, snpC: loc030SnpC, snpS: loc030SnpS },
  { gene: 'LOC109137647', ox: 0, oy: 1720, sy: 2.751, left: 217, right: 1522, xr: [217, 1522], tops: [52, 347, 638, 951], bases: [344, 635, 948, 1248], geneY: [1305, 1418], geneLbl: [833, 1490], lblX: 126, lblY: [220, 505, 820, 1125], assayX: 18, vX: 44, cutY: 325, cutV: [60, 600], rnaY: 970, rnaV: [695, 1235], strand: '>', colors: [BLUE, RED, SKY, PINK], line0: '#3333BB', cut: loc647CutC, cutS: loc647CutS, rna: loc647RnaC, rnaS: loc647RnaS, body: loc647Body, exons: loc647Exons, snpC: loc647SnpC, snpS: loc647SnpS },
  { gene: 'lhfpl4b', ox: 1940, oy: 1720, sy: 2.751, left: 243, right: 1540, xr: [243, 1540], tops: [68, 355, 642, 944], bases: [352, 639, 941, 1237], geneY: [1290, 1407], geneLbl: [897, 1495], lblX: 152, lblY: [205, 490, 810, 1115], assayX: 43, vX: 70, cutY: 330, cutV: [70, 610], rnaY: 975, rnaV: [703, 1243], strand: '>', turnAt: 480, colors: [BLUE, RED, SKY, PINK], line0: '#5555CC', cut: lhfCutC, cutS: lhfCutS, rna: lhfRnaC, rnaS: lhfRnaS, body: lhfBody, exons: lhfExons, snpC: lhfSnpC, snpS: lhfSnpS },
  { gene: 'LOC113745309', ox: 0, oy: 2290, sy: 2.751, left: 221, right: 1526, xr: [221, 1526], tops: [68, 350, 643, 942], bases: [347, 640, 939, 1232], geneY: [1295, 1412], geneLbl: [833, 1490], lblX: 130, lblY: [220, 505, 790, 1095], assayX: 22, vX: 48, cutY: 330, cutV: [70, 610], rnaY: 935, rnaV: [655, 1195], strand: '<', colors: [BLUE, DARKRED, SKY, PINK], line0: '#BBBBBB', cut: loc309CutC, cutS: loc309CutS, rna: loc309RnaC, rnaS: loc309RnaS, body: loc309Body, exons: loc309Exons, snpC: loc309SnpC, snpS: loc309SnpS },
  { gene: 'LOC113745578', ox: 1940, oy: 2290, sy: 2.751, left: 245, right: 1547, xr: [245, 1547], tops: [92, 378, 659, 951], bases: [375, 656, 948, 1236], geneY: [1295, 1415], geneLbl: [893, 1505], lblX: 153, lblY: [240, 525, 810, 1115], assayX: 45, vX: 72, cutY: 355, cutV: [95, 635], rnaY: 980, rnaV: [700, 1240], strand: '>', colors: [BLUE, RED, SKY, PINK], line0: '#4444CC', cut: loc578CutC, cutS: loc578CutS, rna: loc578RnaC, rnaS: loc578RnaS, body: loc578Body, exons: loc578Exons, snpC: loc578SnpC, snpS: loc578SnpS },
  { gene: 'vldlr', ox: 0, oy: 2860, sy: 2.846, left: 223, right: 1525, xr: [223, 1525], tops: [72, 365, 660, 960], bases: [362, 657, 957, 1262], geneY: [1322, 1455], geneLbl: [820, 1525], lblX: 133, lblY: [225, 510, 825, 1125], assayX: 25, vX: 50, cutY: 355, cutV: [80, 640], rnaY: 980, rnaV: [698, 1257], strand: '>', colors: [BLUE, RED, SKY, PINK], line0: '#2222AA', cut: vldlrCutC, cutS: vldlrCutS, rna: vldlrRnaC, rnaS: vldlrRnaS, body: vldlrBody, exons: vldlrExons, snpC: vldlrSnpC, snpS: vldlrSnpS }
];

const page = document.getElementById('page');
const SX = 0.825;

function addLabel(cls, text, x, y) {
  let el = document.createElement('span');
  el.className = 'lbl ' + cls;
  el.textContent = text;
  el.style.left = x + 'px';
  el.style.top = y + 'px';
  page.appendChild(el);
}

function addCanvas(x, y, w, h) {
  let c = document.createElement('canvas');
  c.width = Math.round(w);
  c.height = Math.round(h);
  c.style.left = Math.round(x) + 'px';
  c.style.top = Math.round(y) + 'px';
  c.style.width = Math.round(w) + 'px';
  c.style.height = Math.round(h) + 'px';
  page.appendChild(c);
  return c;
}

// flat list -> points for a stepped line
function toSteps(flat, xMin) {
  let pts = [];
  if (flat[0] > xMin) pts.push({ x: xMin, y: 0 });
  for (let i = 0; i < flat.length; i += 2) pts.push({ x: flat[i], y: flat[i + 1] });
  return pts;
}

function geneSteps(body, exons, sign) {
  let pts = [{ x: body[0], y: sign }];
  for (let i = 0; i < exons.length; i += 2) {
    pts.push({ x: exons[i], y: 1.5 * sign });
    pts.push({ x: exons[i + 1], y: sign });
  }
  pts.push({ x: body[1], y: 0 });
  return pts;
}

function drawTrack(canvas, flat, snps, color, xr, yMax, baseColor, baseWidth) {
  let datasets = [{
    type: 'line',
    data: toSteps(flat, xr[0]),
    stepped: true,
    fill: 'origin',
    backgroundColor: color,
    borderWidth: 0,
    pointRadius: 0,
    order: 2
  }];
  if (snps.length) {
    datasets.push({
      type: 'bar',
      data: snps.map(s => ({ x: s[0], y: s[1] })),
      backgroundColor: snps.map(s => snpColors[s[2]]),
      barThickness: 2,
      grouped: false,
      order: 1
    });
  }
  return new Chart(canvas, {
    type: 'line',
    data: { datasets: datasets },
    options: {
      responsive: false,
      animation: false,
      events: [],
      layout: { padding: { left: 2, bottom: 2, top: 0, right: 0 } },
      plugins: { legend: { display: false }, tooltip: { enabled: false } },
      scales: {
        x: {
          type: 'linear', min: xr[0], max: xr[1], offset: false,
          afterFit: s => { s.height = 0; },
          grid: { display: false, drawTicks: false },
          ticks: { display: false },
          border: { color: baseColor, width: baseWidth }
        },
        y: {
          min: 0, max: yMax,
          afterFit: s => { s.width = 0; },
          grid: { display: false, drawTicks: false },
          ticks: { display: false },
          border: { color: '#8a8a8a', width: 1 }
        }
      }
    }
  });
}

// white strand arrows over the gene bar
const chevronPlugin = {
  id: 'chevrons',
  afterDatasetsDraw(chart, args, opts) {
    let ctx = chart.ctx, xs = chart.scales.x, ys = chart.scales.y;
    let mid = ys.getPixelForValue(0);
    ctx.save();
    ctx.strokeStyle = '#fff';
    ctx.lineWidth = 3;
    for (let v = opts.from + 10; v < opts.to - 3; v += 42.6) {
      let px = xs.getPixelForValue(v);
      let dir = opts.strand === '>' ? 1 : -1;
      if (opts.turnAt && v > opts.turnAt) dir = -1;
      ctx.beginPath();
      ctx.moveTo(px - 3 * dir, mid - 9);
      ctx.lineTo(px + 3 * dir, mid);
      ctx.lineTo(px - 3 * dir, mid + 9);
      ctx.stroke();
    }
    ctx.restore();
  }
};

function drawGene(canvas, p) {
  let shared = { type: 'line', stepped: true, fill: 'origin', backgroundColor: '#000', borderWidth: 0, pointRadius: 0 };
  return new Chart(canvas, {
    type: 'line',
    data: { datasets: [
      Object.assign({ data: geneSteps(p.body, p.exons, 1) }, shared),
      Object.assign({ data: geneSteps(p.body, p.exons, -1) }, shared)
    ] },
    plugins: [chevronPlugin],
    options: {
      responsive: false,
      animation: false,
      events: [],
      layout: { padding: 0 },
      plugins: {
        legend: { display: false },
        tooltip: { enabled: false },
        chevrons: { from: p.body[0], to: p.body[1], strand: p.strand, turnAt: p.turnAt }
      },
      scales: {
        x: { type: 'linear', min: p.xr[0], max: p.xr[1], display: false },
        y: { min: -1.5, max: 1.5, display: false }
      }
    }
  });
}

panels.forEach(p => {
  let px = v => p.ox + v / SX;
  let py = v => p.oy + v / p.sy;
  let x0 = px(p.left), x1 = px(p.right);

  for (let i = 0; i < 4; i++) {
    let y0 = py(p.tops[i]), y1 = py(p.bases[i]);
    let c = addCanvas(x0 - 2, y0, x1 - x0 + 2, y1 - y0 + 2);
    c.style.background = '#fafafa';
    let flat = [p.cut, p.cutS, p.rna, p.rnaS][i];
    let snps = i === 2 ? p.snpC : (i === 3 ? p.snpS : []);
    let baseColor = i === 0 ? p.line0 : (i === 2 ? '#8c8c8c' : '#e2e2e2');
    let baseWidth = i === 0 ? 2 : (i === 2 ? 3 : 1);
    drawTrack(c, flat, snps, p.colors[i], p.xr, p.bases[i] - p.tops[i], baseColor, baseWidth);
    addLabel('group', groupLabels[i], px(p.lblX), py(p.lblY[i]));
  }

  // gene model
  let gy0 = py(p.geneY[0]), gy1 = py(p.geneY[1]);
  let halo = document.createElement('div');
  halo.className = 'halo';
  halo.style.left = (x0 + (p.body[0] - p.xr[0]) / SX) + 'px';
  halo.style.top = (gy0 - 8) + 'px';
  halo.style.width = (p.body[1] - p.body[0]) / SX + 'px';
  halo.style.height = (gy1 - gy0 + 16) + 'px';
  page.appendChild(halo);
  drawGene(addCanvas(x0, gy0, x1 - x0, gy1 - gy0), p);
  addLabel('gene', p.gene, px(p.geneLbl[0]), py(p.geneLbl[1]));

  // assay labels with their rules
  addLabel('assay', assayLabels[0], px(p.assayX), py(p.cutY));
  addLabel('assay', assayLabels[1], px(p.assayX), py(p.rnaY));
  [p.cutV, p.rnaV].forEach(r => {
    let v = document.createElement('div');
    v.className = 'vline';
    v.style.left = px(p.vX) + 'px';
    v.style.top = py(r[0]) + 'px';
    v.style.height = (py(r[1]) - py(r[0])) + 'px';
    page.appendChild(v);
  });
});
</script>
</body>
</html>
